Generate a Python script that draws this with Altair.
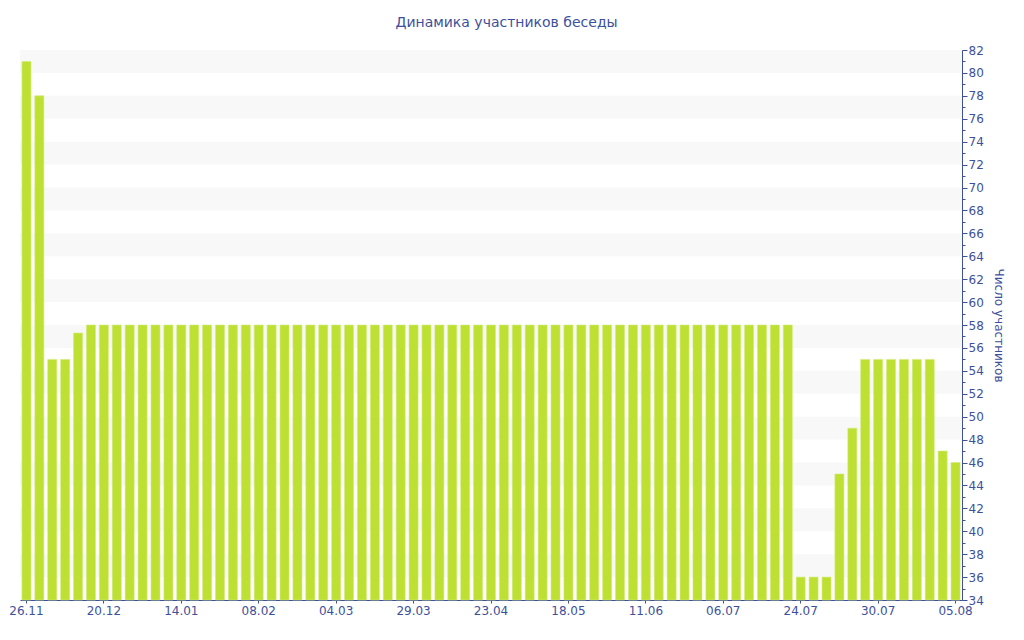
import json
import altair as alt
import pandas as pd

# ---- data ----
tick_labels = ["26.11", "20.12", "14.01", "08.02", "04.03", "29.03", "23.04",
               "18.05", "11.06", "06.07", "24.07", "30.07", "05.08"]
label_every = 6

counts = [
    81, 78, 55, 55, 57.3,
    58, 58, 58, 58, 58, 58, 58, 58, 58, 58,
    58, 58, 58, 58, 58, 58, 58, 58, 58, 58,
    58, 58, 58, 58, 58, 58, 58, 58, 58, 58,
    58, 58, 58, 58, 58, 58, 58, 58, 58, 58,
    58, 58, 58, 58, 58, 58, 58, 58, 58, 58,
    58, 58, 58, 58, 58,
    36, 36, 36, 45, 49, 55, 55, 55, 55, 55, 55, 47, 46,
]

y_min, y_max = 34, 82

df = pd.DataFrame({"i": list(range(len(counts))), "n": counts})
bands = pd.DataFrame({"lo": list(range(y_min + 2, y_max, 4))})
bands["hi"] = bands["lo"] + 2

W, H = 942, 550
BLUE = "#3e5099"
FONT = "DejaVu Sans"
Y_TITLE = "Число участников"

yscale = alt.Scale(domain=[y_min, y_max], zero=False, nice=False)
yaxis = alt.Axis(
    orient="right",
    values=list(range(y_min, y_max + 1)),
    labelExpr="datum.value % 2 === 0 ? datum.label : ''",
    tickSize={"condition": {"test": "datum.value % 2 === 0", "value": 5}, "value": 3},
    labelFont=FONT,
    labelFontSize=12,
    labelColor=BLUE,
    tickColor=BLUE,
    domainColor=BLUE,
    labelPadding=1,
    titleFont=FONT,
    titleFontSize=12,
    titleFontWeight="normal",
    titleColor=BLUE,
    titlePadding=8,
    grid=False,
    labelOverlap=False,
)

band_layer = alt.Chart(bands).mark_rect(color="#f8f8f8").encode(
    x=alt.value(0),
    x2=alt.value(W),
    y=alt.Y("lo:Q", scale=yscale, title=Y_TITLE, axis=yaxis),
    y2="hi:Q",
)

label_expr = f"{json.dumps(tick_labels)}[round(datum.value / {label_every})]"

bars = alt.Chart(df).mark_bar(color="#bde032", stroke="#d4ec78", strokeWidth=0.6).encode(
    x=alt.X(
        "i:O",
        title=None,
        scale=alt.Scale(paddingInner=0.3, paddingOuter=0.15),
        axis=alt.Axis(
            values=list(range(0, len(counts), label_every)),
            labelExpr=label_expr,
            labelAngle=0,
            labelFont=FONT,
            labelFontSize=12,
            labelColor=BLUE,
            tickSize=3,
            tickColor=BLUE,
            domainColor=BLUE,
            labelPadding=2,
            grid=False,
        ),
    ),
    y=alt.Y("n:Q", scale=yscale, title=Y_TITLE, axis=yaxis),
    y2=alt.datum(y_min),
    tooltip=["i:O", "n:Q"],
)

chart = alt.layer(band_layer, bars).properties(
    width=W,
    height=H,
    padding={"left": 0, "top": 8, "right": 5, "bottom": 5},
    title=alt.TitleParams(
        "Динамика участников беседы",
        font=FONT,
        fontSize=14,
        fontWeight="normal",
        color=BLUE,
        anchor="middle",
        frame="bounds",
        offset=14,
    ),
).configure_view(stroke=None)

chart.save("out.html", embed_options={"renderer": "svg", "actions": False})
